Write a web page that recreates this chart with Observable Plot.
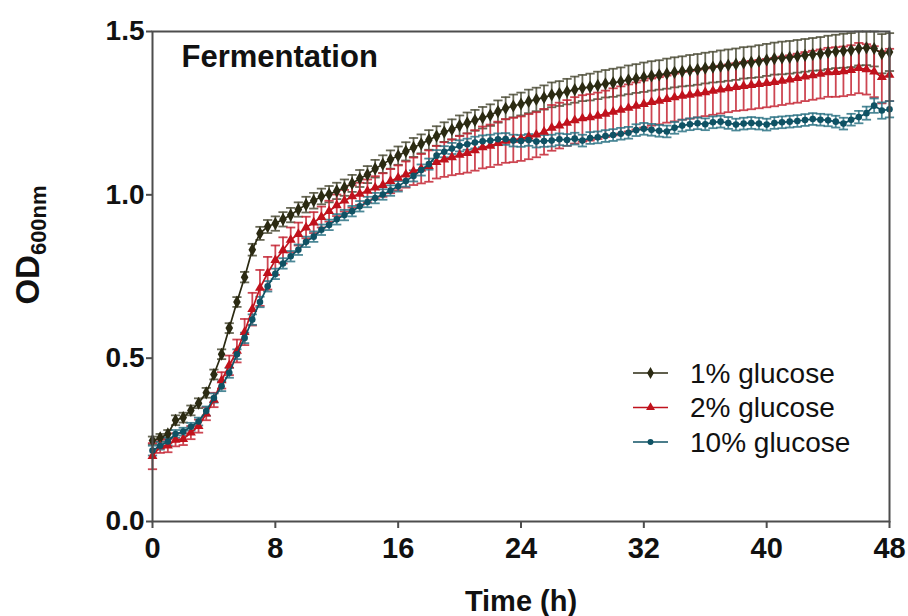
<!DOCTYPE html>
<html>
<head>
<meta charset="utf-8">
<script src="https://cdn.jsdelivr.net/npm/d3@7"></script>
<script src="https://cdn.jsdelivr.net/npm/@observablehq/plot@0.6"></script>
<style>
  html, body { margin: 0; padding: 0; background: #fff; }
  #chart { width: 908px; height: 616px; }
</style>
</head>
<body>
<div id="chart"></div>
<script>
// ---- Data ----
const seriesNames = ["1% glucose", "2% glucose", "10% glucose"];
const xTicks = [0, 8, 16, 24, 32, 40, 48];
const yTicks = [0.0, 0.5, 1.0, 1.5];

const times = [0,0.5,1,1.5,2,2.5,3,3.5,4,4.5,5,5.5,6,6.5,7,7.5,8,8.5,9,9.5,
  10,10.5,11,11.5,12,12.5,13,13.5,14,14.5,15,15.5,16,16.5,17,17.5,18,18.5,19,19.5,
  20,20.5,21,21.5,22,22.5,23,23.5,24,24.5,25,25.5,26,26.5,27,27.5,28,28.5,29,29.5,
  30,30.5,31,31.5,32,32.5,33,33.5,34,34.5,35,35.5,36,36.5,37,37.5,38,38.5,39,39.5,
  40,40.5,41,41.5,42,42.5,43,43.5,44,44.5,45,45.5,46,46.5,47,47.5,48];

const od1 = [0.248,0.256,0.268,0.310,0.318,0.340,0.362,0.394,0.450,0.512,
  0.592,0.672,0.748,0.832,0.882,0.903,0.912,0.925,0.938,0.955,
  0.970,0.982,0.995,1.002,1.012,1.022,1.035,1.050,1.062,1.080,
  1.094,1.108,1.120,1.133,1.145,1.156,1.168,1.180,1.192,1.200,
  1.212,1.220,1.228,1.236,1.244,1.255,1.265,1.272,1.278,1.286,
  1.292,1.298,1.306,1.310,1.316,1.322,1.327,1.330,1.335,1.340,
  1.343,1.347,1.352,1.356,1.360,1.364,1.367,1.371,1.375,1.378,
  1.381,1.384,1.388,1.391,1.394,1.397,1.400,1.404,1.406,1.409,
  1.413,1.417,1.419,1.421,1.424,1.427,1.430,1.432,1.436,1.439,
  1.441,1.443,1.448,1.450,1.448,1.432,1.437];
const sd1 = [0.012,0.012,0.012,0.015,0.015,0.015,0.015,0.015,0.015,0.015,
  0.015,0.015,0.016,0.018,0.020,0.020,0.022,0.022,0.022,0.022,
  0.024,0.024,0.024,0.025,0.025,0.025,0.026,0.026,0.026,0.027,
  0.027,0.028,0.028,0.028,0.029,0.029,0.030,0.030,0.030,0.031,
  0.031,0.032,0.032,0.033,0.033,0.034,0.034,0.035,0.035,0.036,
  0.036,0.037,0.038,0.038,0.039,0.040,0.040,0.041,0.042,0.042,
  0.043,0.043,0.044,0.044,0.045,0.045,0.045,0.046,0.046,0.046,
  0.047,0.047,0.047,0.047,0.048,0.048,0.048,0.048,0.048,0.049,
  0.049,0.049,0.050,0.050,0.050,0.050,0.050,0.051,0.051,0.051,
  0.052,0.052,0.052,0.053,0.055,0.060,0.058];

const od2 = [0.200,0.230,0.232,0.250,0.252,0.272,0.292,0.330,0.372,0.432,
  0.478,0.522,0.580,0.650,0.715,0.760,0.800,0.830,0.862,0.880,
  0.900,0.915,0.932,0.950,0.968,0.982,0.995,1.003,1.012,1.022,
  1.030,1.042,1.052,1.062,1.072,1.080,1.088,1.100,1.108,1.115,
  1.122,1.128,1.136,1.145,1.150,1.158,1.165,1.168,1.172,1.178,
  1.184,1.193,1.205,1.212,1.220,1.228,1.234,1.237,1.242,1.248,
  1.254,1.260,1.266,1.272,1.278,1.284,1.288,1.293,1.298,1.303,
  1.306,1.310,1.314,1.318,1.322,1.326,1.330,1.333,1.336,1.339,
  1.342,1.345,1.349,1.353,1.357,1.362,1.366,1.370,1.375,1.376,
  1.378,1.382,1.388,1.384,1.377,1.360,1.367];
const sd2 = [0.040,0.020,0.020,0.020,0.018,0.020,0.020,0.020,0.022,0.025,
  0.030,0.035,0.040,0.050,0.055,0.050,0.045,0.040,0.038,0.035,
  0.033,0.032,0.032,0.032,0.033,0.033,0.034,0.034,0.035,0.035,
  0.036,0.037,0.038,0.040,0.042,0.045,0.048,0.050,0.053,0.055,
  0.058,0.060,0.062,0.064,0.065,0.066,0.067,0.068,0.068,0.069,
  0.069,0.070,0.070,0.070,0.070,0.071,0.071,0.071,0.071,0.071,
  0.072,0.072,0.072,0.072,0.072,0.072,0.072,0.072,0.073,0.073,
  0.073,0.073,0.073,0.073,0.073,0.073,0.073,0.074,0.074,0.074,
  0.074,0.074,0.074,0.074,0.075,0.075,0.075,0.075,0.075,0.076,
  0.076,0.076,0.077,0.077,0.078,0.080,0.080];

const od3 = [0.217,0.232,0.245,0.268,0.275,0.290,0.306,0.338,0.378,0.414,
  0.455,0.512,0.562,0.618,0.672,0.720,0.758,0.790,0.812,0.832,
  0.856,0.872,0.893,0.908,0.925,0.938,0.950,0.965,0.978,0.990,
  1.001,1.013,1.026,1.042,1.058,1.076,1.094,1.120,1.132,1.142,
  1.150,1.155,1.160,1.164,1.166,1.170,1.171,1.166,1.165,1.168,
  1.163,1.165,1.166,1.170,1.168,1.172,1.166,1.174,1.176,1.180,
  1.183,1.187,1.190,1.198,1.202,1.199,1.196,1.194,1.205,1.212,
  1.216,1.219,1.216,1.222,1.224,1.220,1.215,1.218,1.220,1.218,
  1.215,1.220,1.222,1.224,1.226,1.229,1.232,1.230,1.228,1.224,
  1.218,1.230,1.238,1.250,1.273,1.258,1.262];
const sd3 = [0.015,0.012,0.012,0.012,0.012,0.012,0.012,0.014,0.014,0.015,
  0.015,0.015,0.016,0.016,0.016,0.016,0.016,0.016,0.016,0.016,
  0.016,0.016,0.016,0.016,0.016,0.016,0.016,0.016,0.016,0.016,
  0.016,0.016,0.016,0.017,0.017,0.017,0.017,0.017,0.017,0.017,
  0.017,0.017,0.018,0.018,0.018,0.018,0.018,0.018,0.018,0.018,
  0.018,0.018,0.018,0.018,0.018,0.018,0.018,0.018,0.018,0.018,
  0.018,0.018,0.018,0.018,0.018,0.018,0.018,0.018,0.018,0.018,
  0.018,0.018,0.018,0.018,0.018,0.018,0.018,0.018,0.018,0.018,
  0.018,0.018,0.018,0.018,0.018,0.018,0.018,0.018,0.018,0.018,
  0.018,0.018,0.019,0.020,0.022,0.025,0.025];

// ---- Styling per series (not data) ----
const styles = [
  {line: "#2b2a12", bar: "#4e4e38", symbol: "diamond", r: 4.0},
  {line: "#c0121c", bar: "#c42634", symbol: "triangle", r: 3.7},
  {line: "#0f5264", bar: "#2d7385", symbol: "circle", r: 3.3}
];

const valueSets = [od1, od2, od3];
const sdSets = [sd1, sd2, sd3];
const rowsBySeries = valueSets.map((vals, i) =>
  times.map((t, j) => ({t, v: vals[j], sd: sdSets[i][j], series: seriesNames[i]})));

const capSymbol = {
  draw(ctx, size) {
    const r = Math.sqrt(size / Math.PI);
    ctx.moveTo(-r, 0);
    ctx.lineTo(r, 0);
  }
};

const seriesMarks = [];
rowsBySeries.forEach((rows, i) => {
  const s = styles[i];
  const barOpts = {stroke: s.bar, strokeWidth: 1.8, strokeOpacity: 0.85};
  seriesMarks.push(
    Plot.ruleX(rows, {x: "t", y1: d => d.v - d.sd, y2: d => Math.min(1.5, d.v + d.sd), ...barOpts}),
    Plot.dot(rows, {x: "t", y: d => Math.min(1.5, d.v + d.sd), symbol: capSymbol, r: 4.6, fill: "none", ...barOpts}),
    Plot.dot(rows, {x: "t", y: d => d.v - d.sd, symbol: capSymbol, r: 4.6, fill: "none", ...barOpts})
  );
});
rowsBySeries.forEach((rows, i) => {
  const s = styles[i];
  seriesMarks.push(
    Plot.line(rows, {x: "t", y: "v", stroke: s.line, strokeWidth: 1.7}),
    Plot.dot(rows, {x: "t", y: "v", symbol: s.symbol, r: s.r, fill: s.line, stroke: "none"})
  );
});

const chart = Plot.plot({
  width: 908,
  height: 616,
  marginLeft: 152,
  marginRight: 19,
  marginTop: 31,
  marginBottom: 95,
  style: {fontFamily: "'Liberation Sans', Arial, sans-serif", background: "#fff", color: "#111"},
  x: {domain: [0, 48], label: null},
  y: {domain: [0, 1.5], label: null},
  marks: [
    ...seriesMarks,
    Plot.frame({stroke: "#4d4d4d", strokeWidth: 2}),
    Plot.axisX({ticks: xTicks, tickSize: 7, tickPadding: 9, fontSize: 29, fontWeight: "bold",
      stroke: "#4d4d4d", strokeWidth: 2, label: null}),
    Plot.axisY({ticks: yTicks, tickSize: 6, tickPadding: 2, fontSize: 28, fontWeight: "bold",
      tickFormat: d3.format(".1f"), stroke: "#4d4d4d", strokeWidth: 2, label: null}),
    Plot.text(["Time (h)"], {frameAnchor: "bottom", dy: 80, text: d => d, fontSize: 29, fontWeight: "bold",
      lineAnchor: "middle"}),
    Plot.text(["Fermentation"], {frameAnchor: "top-left", dx: 29, dy: 26, text: d => d, textAnchor: "start",
      lineAnchor: "middle", fontSize: 31, fontWeight: "bold"})
  ]
});

document.getElementById("chart").appendChild(chart);

// Y axis title with subscript
const svg = d3.select(chart);
const yl = svg.append("text")
  .attr("transform", "translate(39,245) rotate(-90)")
  .attr("text-anchor", "middle")
  .attr("font-family", "'Liberation Sans', Arial, sans-serif")
  .attr("font-weight", "bold")
  .attr("fill", "#111");
yl.append("tspan").attr("font-size", 33).text("OD");
yl.append("tspan").attr("font-size", 22).attr("dy", 7).text("600nm");

// Legend
const lg = svg.append("g").attr("font-family", "'Liberation Sans', Arial, sans-serif").attr("text-anchor", "start");
seriesNames.forEach((name, i) => {
  const s = styles[i];
  const yy = 373 + i * 34.5;
  lg.append("line").attr("x1", 633).attr("x2", 668).attr("y1", yy).attr("y2", yy)
    .attr("stroke", s.line).attr("stroke-width", 1.6);
  const sym = d3.symbol().type(
    s.symbol === "diamond" ? d3.symbolDiamond : s.symbol === "triangle" ? d3.symbolTriangle : d3.symbolCircle
  ).size(s.r * s.r * Math.PI * 0.8);
  lg.append("path").attr("d", sym()).attr("transform", `translate(650.5,${yy})`).attr("fill", s.line);
  lg.append("text").attr("x", 690).attr("y", yy).attr("dy", "0.35em").attr("text-anchor", "start")
    .attr("font-size", 28).attr("fill", "#111").text(name);
});
</script>
</body>
</html>
